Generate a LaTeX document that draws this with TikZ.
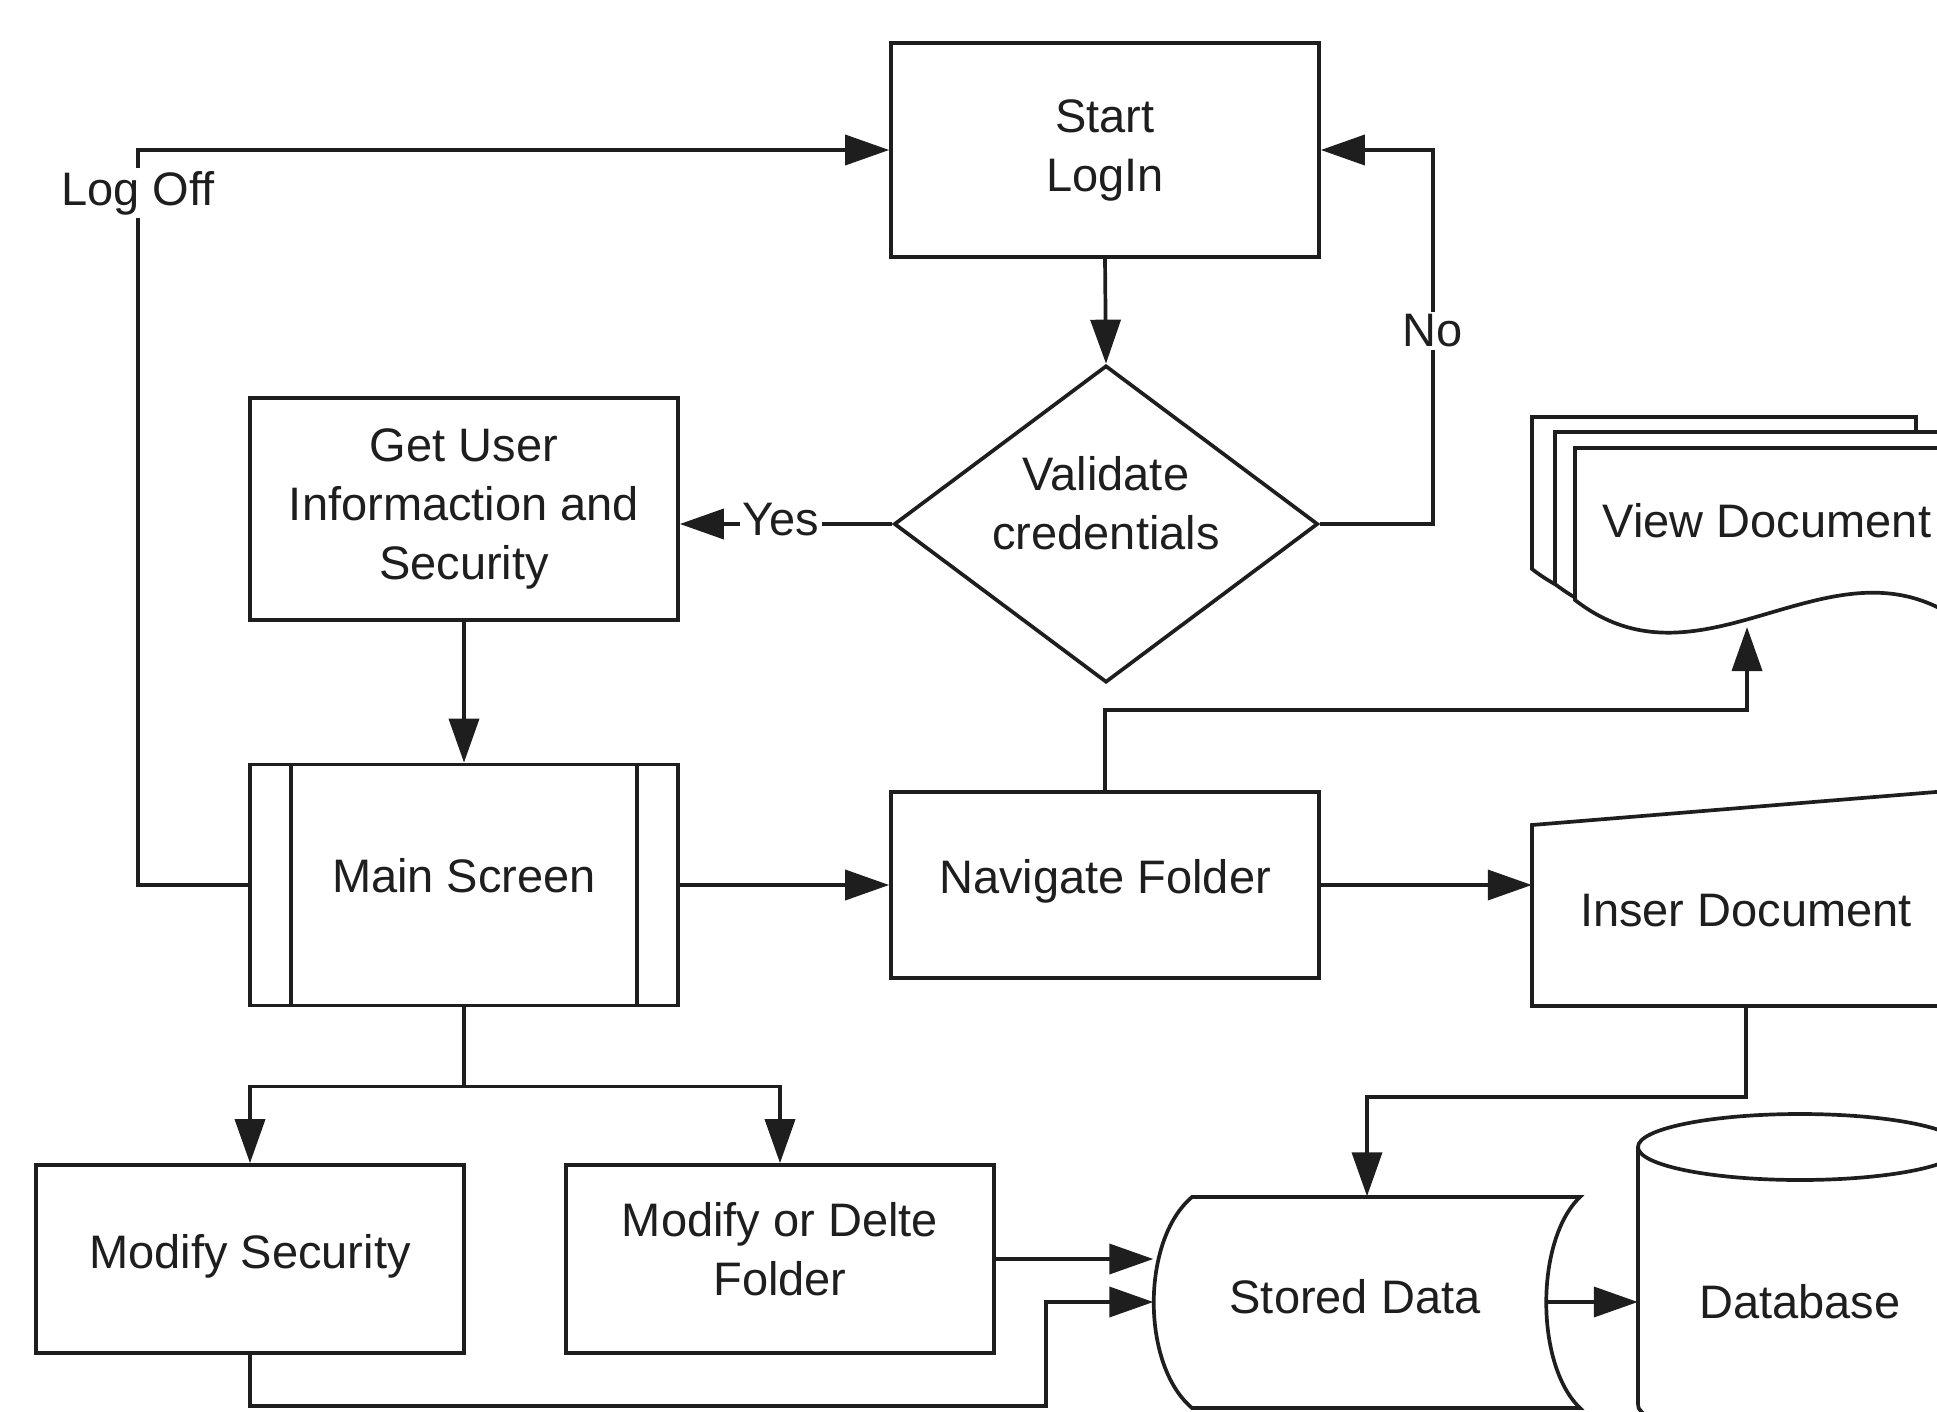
\documentclass[tikz,border=0pt]{standalone}
\usepackage{fontspec}
\setmainfont{Liberation Sans}
\usetikzlibrary{arrows.meta,shapes.geometric,calc}
\definecolor{ink}{HTML}{1E1E1E}
\tikzset{
  line/.style={draw=ink, line width=3.7pt},
  box/.style={line, rectangle, inner sep=4pt, fill=white},
  plain/.style={rectangle, align=center, inner sep=0pt},
  arr/.style={line, -{Triangle[length=44pt,width=30pt]}},
  lab/.style={fill=white, inner sep=3pt, text=ink}
}
\begin{document}
\begin{tikzpicture}[x=1pt,y=-1pt, font=\fontsize{47}{59}\selectfont, text=ink]
\useasboundingbox (0,0) rectangle (1937,1412);
\clip (0,0) rectangle (1937,1412);

% nodes (shapes)
\node[box, minimum width=428pt, minimum height=214pt] (start) at (1105,150) {};
\node[plain] at (start.center) {Start\\LogIn};
\node[line, diamond, inner sep=0pt, minimum width=424pt, minimum height=317pt] (valid) at (1106,524) {};
\node[plain, yshift=21pt] at (valid.center) {Validate\\credentials};
\node[box, minimum width=428pt, minimum height=222pt] (getuser) at (464,509) {};
\node[plain] at (getuser.center) {Get User\\Informaction and\\Security};
\node[box, minimum width=428pt, minimum height=241pt] (main) at (464,885) {};
\node[plain, yshift=9pt] at (main.center) {Main Screen};
\draw[line] ([xshift=43pt]main.north west) -- ([xshift=43pt]main.south west);
\draw[line] ([xshift=-43pt]main.north east) -- ([xshift=-43pt]main.south east);
\node[box, minimum width=428pt, minimum height=186pt] (nav) at (1105,885) {};
\node[plain, yshift=4pt] at (nav.center) {Navigate Folder};
\node[box, minimum width=428pt, minimum height=188pt] (modsec) at (250,1259) {};
\node[plain, yshift=3pt] at (modsec.center) {Modify Security};
\node[box, minimum width=428pt, minimum height=188pt] (modfold) at (780,1259) {};
\node[plain, yshift=10pt] at (modfold.center) {Modify or Delte\\Folder};

% view document (multiple documents)
\foreach \dx/\dy in {-43/-31, -20/-16, 0/0} {
  \begin{scope}[shift={(\dx,\dy)}]
    \filldraw[line, fill=white] (1575,600) -- (1575,448) -- (1959,448) -- (1959,620)
      .. controls (1831,530) and (1703,700) .. cycle;
  \end{scope}
}
\node[plain, minimum width=384pt, minimum height=150pt] (view) at (1767,524) {};
\node[plain, yshift=3pt] at (view.center) {View Document};
\coordinate (vin) at (1747,627);

% insert document (manual input)
\node[plain, minimum width=428pt, minimum height=181pt] (ins) at (1746,915) {};
\draw[line, fill=white] (1532,825) -- (1532,1006) -- (1960,1006) -- (1960,790) -- cycle;
\node[plain, yshift=4pt] at (ins.center) {Inser Document};

% stored data
\node[plain, minimum width=427pt, minimum height=211pt] (stored) at (1367,1302) {};
\draw[line, fill=white] (1192,1197) -- (1580,1197)
  .. controls (1535,1240) and (1535,1365) .. (1580,1408)
  -- (1192,1408)
  .. controls (1141,1365) and (1141,1240) .. cycle;
\node[plain, yshift=5pt] at ([xshift=-12pt]stored.center) {Stored Data};

% database
\draw[line] (1638,1147) -- (1638,1405);
\draw[line] (1800,1147) ellipse [x radius=162pt, y radius=33pt];
\draw[line] (1638,1405) arc[start angle=180, end angle=360, x radius=162pt, y radius=33pt];
\node[plain, minimum width=324pt, minimum height=200pt] (db) at (1800,1302) {Database};

% connectors
\draw[arr] (start.south) -- (valid.north);
\draw[arr] (valid.east) -- ++(113,0) |- node[lab, pos=0.258]{No} (start.east);
\draw[arr] (valid.west) -- node[lab, pos=0.523, yshift=4pt]{Yes} (valid.west -| getuser.east);
\draw[arr] (getuser.south) -- (main.north);
\draw[arr] (main.west) -- ++(-110,0) |- node[lab, pos=0.4707]{Log Off} (start.west);
\draw[arr] (main.east) -- (nav.west);
\draw[arr] (nav.north) -- ++(0,-80) -| (vin);
\draw[arr] (nav.east) -- (nav.east -| ins.west);
\draw[arr] (main.south) -- ++(0,79) -| (modsec.north);
\draw[arr] (main.south) -- ++(0,79) -| (modfold.north);
\draw[arr] (ins.south) -- ++(0,91) -| (stored.north);
\draw[arr] (modfold.east) -- (modfold.east -| stored.west);
\coordinate (c1) at (1046,1406);
\draw[arr] (modsec.south) |- (c1) |- (stored.west);
\draw[arr] ([xshift=-36pt]stored.east) -- (db.west);
\end{tikzpicture}
\end{document}
